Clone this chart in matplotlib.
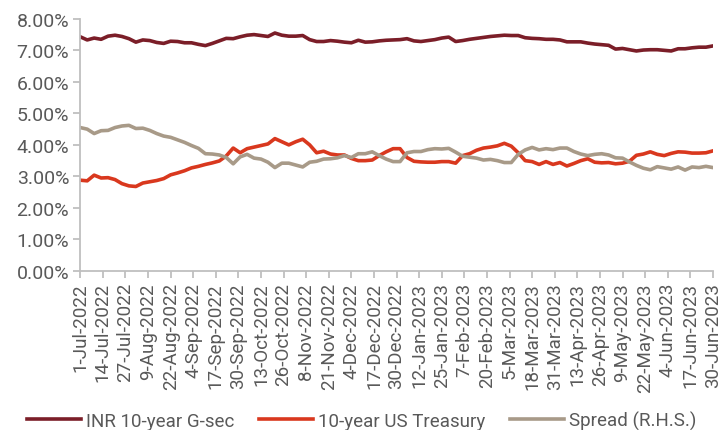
import matplotlib
matplotlib.use("Agg")
import matplotlib.pyplot as plt
import pandas as pd
from matplotlib.ticker import FuncFormatter

# Data, one value every 4 days from 1-Jul-2022 to 30-Jun-2023
dates = pd.date_range("2022-07-01", periods=92, freq="4D")

inr_gsec = [7.43, 7.33, 7.39, 7.35, 7.45, 7.48, 7.44, 7.37, 7.26, 7.33,
            7.31, 7.25, 7.22, 7.29, 7.28, 7.24, 7.24, 7.19, 7.15, 7.22,
            7.30, 7.38, 7.37, 7.43, 7.48, 7.50, 7.47, 7.44, 7.55, 7.48,
            7.45, 7.45, 7.47, 7.34, 7.28, 7.28, 7.31, 7.29, 7.26, 7.24,
            7.32, 7.26, 7.27, 7.30, 7.32, 7.33, 7.34, 7.37, 7.30, 7.28,
            7.31, 7.34, 7.39, 7.42, 7.28, 7.31, 7.35, 7.38, 7.41, 7.44,
            7.46, 7.48, 7.47, 7.47, 7.40, 7.38, 7.37, 7.35, 7.35, 7.33,
            7.27, 7.27, 7.27, 7.23, 7.20, 7.18, 7.16, 7.04, 7.06, 7.02,
            6.98, 7.01, 7.02, 7.02, 7.00, 6.98, 7.05, 7.05, 7.08, 7.10,
            7.10, 7.14]

us_treasury = [2.88, 2.86, 3.04, 2.95, 2.96, 2.90, 2.77, 2.70, 2.68, 2.79,
               2.83, 2.87, 2.93, 3.05, 3.11, 3.18, 3.27, 3.32, 3.38, 3.43,
               3.49, 3.65, 3.90, 3.75, 3.88, 3.93, 3.98, 4.03, 4.20, 4.10,
               4.00, 4.10, 4.18, 4.00, 3.75, 3.80, 3.71, 3.68, 3.68, 3.57,
               3.50, 3.50, 3.52, 3.66, 3.78, 3.88, 3.88, 3.60, 3.48, 3.46,
               3.45, 3.45, 3.47, 3.47, 3.42, 3.66, 3.72, 3.83, 3.90, 3.93,
               3.97, 4.05, 3.96, 3.75, 3.50, 3.47, 3.38, 3.47, 3.38, 3.44,
               3.33, 3.41, 3.50, 3.56, 3.45, 3.43, 3.44, 3.40, 3.42, 3.48,
               3.67, 3.71, 3.78, 3.70, 3.66, 3.73, 3.78, 3.77, 3.74, 3.74,
               3.75, 3.81]

spread = [4.55, 4.50, 4.36, 4.45, 4.46, 4.55, 4.60, 4.62, 4.52, 4.53,
          4.46, 4.36, 4.28, 4.24, 4.16, 4.08, 3.98, 3.89, 3.72, 3.71,
          3.68, 3.60, 3.40, 3.62, 3.70, 3.58, 3.55, 3.45, 3.28, 3.42,
          3.42, 3.36, 3.30, 3.45, 3.48, 3.55, 3.56, 3.59, 3.66, 3.60,
          3.72, 3.72, 3.78, 3.66, 3.55, 3.47, 3.47, 3.75, 3.79, 3.79,
          3.85, 3.88, 3.87, 3.89, 3.77, 3.64, 3.61, 3.58, 3.52, 3.54,
          3.50, 3.44, 3.44, 3.70, 3.84, 3.92, 3.84, 3.88, 3.85, 3.90,
          3.90, 3.79, 3.71, 3.66, 3.70, 3.72, 3.68, 3.59, 3.58, 3.46,
          3.35, 3.26, 3.21, 3.31, 3.27, 3.23, 3.30, 3.20, 3.30, 3.28,
          3.32, 3.28]

tick_labels = ["1-Jul-2022", "14-Jul-2022", "27-Jul-2022", "9-Aug-2022",
               "22-Aug-2022", "4-Sep-2022", "17-Sep-2022", "30-Sep-2022",
               "13-Oct-2022", "26-Oct-2022", "8-Nov-2022", "21-Nov-2022",
               "4-Dec-2022", "17-Dec-2022", "30-Dec-2022", "12-Jan-2023",
               "25-Jan-2023", "7-Feb-2023", "20-Feb-2023", "5-Mar-2023",
               "18-Mar-2023", "31-Mar-2023", "13-Apr-2023", "26-Apr-2023",
               "9-May-2023", "22-May-2023", "4-Jun-2023", "17-Jun-2023",
               "30-Jun-2023"]

# Style
plt.rcParams['font.family'] = ['Roboto', 'DejaVu Sans']
text_color = "#595959"
axis_color = "#BFBFBF"

fig = plt.figure(figsize=(7.23, 4.31), dpi=100)
ax = fig.add_axes([0.111, 0.369, 0.875, 0.585])

ax.plot(dates, inr_gsec, color="#7B1E28", lw=2.6, label="INR 10-year G-sec")
ax.plot(dates, us_treasury, color="#D9381E", lw=2.6, label="10-year US Treasury")
ax.plot(dates, spread, color="#A89A88", lw=2.6, label="Spread (R.H.S.)")

# Axes limits and ticks
tick_pos = pd.to_datetime(tick_labels, format="%d-%b-%Y")
ax.set_xlim(tick_pos[0], tick_pos[-1])
ax.set_ylim(0, 8)
ax.set_yticks(range(0, 9))
ax.yaxis.set_major_formatter(FuncFormatter(lambda v, _: f"{v:.2f}%"))
ax.set_xticks(tick_pos)
ax.set_xticklabels(tick_labels, rotation=90)

for side in ["top", "right"]:
    ax.spines[side].set_visible(False)
for side in ["left", "bottom"]:
    ax.spines[side].set_color(axis_color)
    ax.spines[side].set_linewidth(1.3)

ax.tick_params(axis="y", colors=axis_color, labelcolor=text_color,
               labelsize=14, length=5, width=1.3, pad=3)
ax.tick_params(axis="x", colors=axis_color, labelcolor=text_color,
               labelsize=13.5, length=5, width=1.3, pad=3)

# Legend below the chart
fig.legend(loc="center", bbox_to_anchor=(0.5, 0.022), ncol=3,
           frameon=False, fontsize=13.5, handlelength=2.9, handletextpad=0.25,
           columnspacing=1.3, labelcolor=text_color)

fig.savefig("out.png", dpi=100)
